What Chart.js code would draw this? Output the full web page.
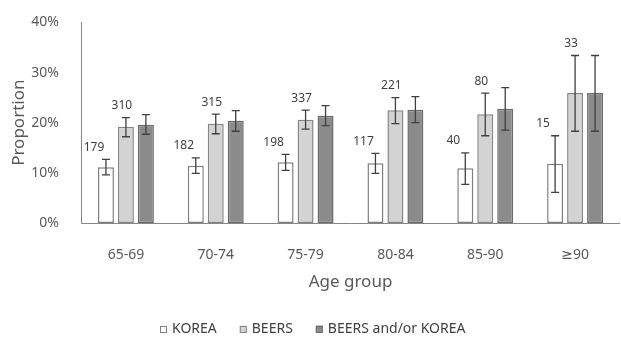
<!DOCTYPE html>
<html>
<head>
<meta charset="utf-8">
<script src="https://cdn.jsdelivr.net/npm/chart.js@4.4.1/dist/chart.umd.min.js"></script>
<style>
  html, body { margin: 0; padding: 0; background: #ffffff; }
  #wrap { width: 621px; height: 338px; }
</style>
</head>
<body>
<div id="wrap"><canvas id="chart" width="621" height="338"></canvas></div>
<script>
// Age groups on the x axis
const ageGroups = ['65-69', '70-74', '75-79', '80-84', '85-90', '\u226590'];

// Proportion (%) flagged by each criterion, with 95% CI bounds
const korea     = [11.1, 11.4, 12.1, 11.9, 10.9, 11.8];
const koreaLow  = [9.6, 9.9, 10.5, 9.9, 7.7, 6.1];
const koreaHigh = [12.7, 13.0, 13.7, 13.9, 14.0, 17.4];

const beers     = [19.2, 19.8, 20.6, 22.5, 21.7, 25.9];
const beersLow  = [17.2, 17.8, 18.7, 19.8, 17.4, 18.3];
const beersHigh = [21.0, 21.7, 22.5, 25.0, 25.9, 33.4];

const either     = [19.6, 20.4, 21.4, 22.6, 22.8, 25.9];
const eitherLow  = [17.7, 18.3, 19.4, 20.0, 18.5, 18.3];
const eitherHigh = [21.6, 22.4, 23.4, 25.2, 27.0, 33.4];

// Number of patients flagged per group
const koreaCount = [179, 182, 198, 117, 40, 15];
const beersCount = [310, 315, 337, 221, 80, 33];

// Y axis ticks
const yTicks = [0, 10, 20, 30, 40];

const FONT = "'Noto Sans', 'DejaVu Sans', sans-serif";

// Left and bottom axis lines
const axisLinePlugin = {
  id: 'axisLines',
  beforeDatasetsDraw(chart) {
    const { ctx, chartArea } = chart;
    const left = Math.round(chartArea.left) + 0.5;
    const bottom = Math.round(chartArea.bottom) + 0.5;
    ctx.save();
    ctx.strokeStyle = '#868686';
    ctx.lineWidth = 1;
    ctx.beginPath();
    ctx.moveTo(left, Math.round(chartArea.top));
    ctx.lineTo(left, bottom);
    ctx.lineTo(Math.round(chartArea.right), bottom);
    ctx.stroke();
    ctx.restore();
  }
};

// Error bars (CI) drawn on top of each bar
const errorBarPlugin = {
  id: 'errorBars',
  afterDatasetsDraw(chart) {
    const ctx = chart.ctx;
    const yScale = chart.scales.y;
    ctx.save();
    ctx.strokeStyle = '#404040';
    ctx.lineWidth = 1.3;
    chart.data.datasets.forEach((ds, i) => {
      const meta = chart.getDatasetMeta(i);
      meta.data.forEach((bar, j) => {
        const x = bar.x;
        const yLo = yScale.getPixelForValue(ds.ciLow[j]);
        const yHi = yScale.getPixelForValue(ds.ciHigh[j]);
        const cap = 4;
        ctx.beginPath();
        ctx.moveTo(x, yLo); ctx.lineTo(x, yHi);
        ctx.moveTo(x - cap, yLo); ctx.lineTo(x + cap, yLo);
        ctx.moveTo(x - cap, yHi); ctx.lineTo(x + cap, yHi);
        ctx.stroke();
      });
    });
    ctx.restore();
  }
};

// Patient counts written above the KOREA and BEERS bars
const countLabelPlugin = {
  id: 'countLabels',
  afterDatasetsDraw(chart) {
    const ctx = chart.ctx;
    const yScale = chart.scales.y;
    ctx.save();
    ctx.font = '12px ' + FONT;
    ctx.fillStyle = '#404040';
    ctx.textAlign = 'center';
    ctx.textBaseline = 'middle';
    chart.data.datasets.forEach((ds, i) => {
      if (!ds.counts) return;
      const meta = chart.getDatasetMeta(i);
      meta.data.forEach((bar, j) => {
        const x = bar.x + ds.countShift;
        const y = yScale.getPixelForValue(ds.ciHigh[j]) - 12;
        ctx.fillText(String(ds.counts[j]), x, y);
      });
    });
    ctx.restore();
  }
};

// Legend row centred under the chart
const bottomLegendPlugin = {
  id: 'bottomLegend',
  afterDraw(chart) {
    const ctx = chart.ctx;
    const box = 7, gap = 5, spacing = 23;
    ctx.save();
    ctx.font = '14px ' + FONT;
    ctx.textBaseline = 'middle';
    ctx.textAlign = 'left';
    const items = chart.data.datasets.map(ds => ({
      text: ds.label, fill: ds.backgroundColor, stroke: ds.borderColor,
      w: box + gap + ctx.measureText(ds.label).width
    }));
    const total = items.reduce((s, it) => s + it.w, 0) + spacing * (items.length - 1);
    let x = Math.round(chart.width / 2 - total / 2 + 2);
    const cy = 329;
    items.forEach(it => {
      ctx.fillStyle = it.fill;
      ctx.fillRect(x, cy - box / 2, box, box);
      ctx.strokeStyle = it.stroke;
      ctx.lineWidth = 1;
      ctx.strokeRect(x + 0.5, Math.round(cy - box / 2) + 0.5, box - 1, box - 1);
      ctx.fillStyle = '#404040';
      ctx.fillText(it.text, x + box + gap, cy);
      x += it.w + spacing;
    });
    ctx.restore();
  }
};

const barCommon = {
  borderWidth: 1.5,
  borderSkipped: false,
  categoryPercentage: 0.667,
  barPercentage: 0.8
};

new Chart(document.getElementById('chart'), {
  type: 'bar',
  data: {
    labels: ageGroups,
    datasets: [
      Object.assign({
        label: 'KOREA', data: korea, ciLow: koreaLow, ciHigh: koreaHigh,
        counts: koreaCount, countShift: -12,
        backgroundColor: '#ffffff', borderColor: '#7f7f7f'
      }, barCommon),
      Object.assign({
        label: 'BEERS', data: beers, ciLow: beersLow, ciHigh: beersHigh,
        counts: beersCount, countShift: -4,
        backgroundColor: '#d3d3d3', borderColor: '#858585'
      }, barCommon),
      Object.assign({
        label: 'BEERS and/or KOREA', data: either, ciLow: eitherLow, ciHigh: eitherHigh,
        backgroundColor: '#8b8b8b', borderColor: '#6b6b6b'
      }, barCommon)
    ]
  },
  options: {
    responsive: false,
    animation: false,
    devicePixelRatio: 1,
    layout: { padding: { top: 18, left: 0, right: 1, bottom: 0 } },
    plugins: {
      legend: { display: false },
      tooltip: { enabled: false }
    },
    scales: {
      x: {
        grid: { display: false },
        border: { display: false },
        ticks: { color: '#595959', font: { family: FONT, size: 14 }, padding: 16 },
        title: {
          display: true, text: 'Age group', color: '#595959',
          font: { family: FONT, size: 17 }, padding: { top: 0, bottom: 46 }
        },
        afterFit(scale) { scale.height = 115; }
      },
      y: {
        min: 0, max: 40,
        afterBuildTicks(scale) { scale.ticks = yTicks.map(v => ({ value: v })); },
        grid: { display: false },
        border: { display: false },
        ticks: {
          color: '#595959', font: { family: FONT, size: 14 }, padding: 14,
          callback: v => v + '%'
        },
        title: {
          display: true, text: 'Proportion', color: '#595959',
          font: { family: FONT, size: 17 }, padding: { top: 9, bottom: 0 }
        },
        afterFit(scale) { scale.width = 81; }
      }
    }
  },
  plugins: [axisLinePlugin, errorBarPlugin, countLabelPlugin, bottomLegendPlugin]
});
</script>
</body>
</html>
